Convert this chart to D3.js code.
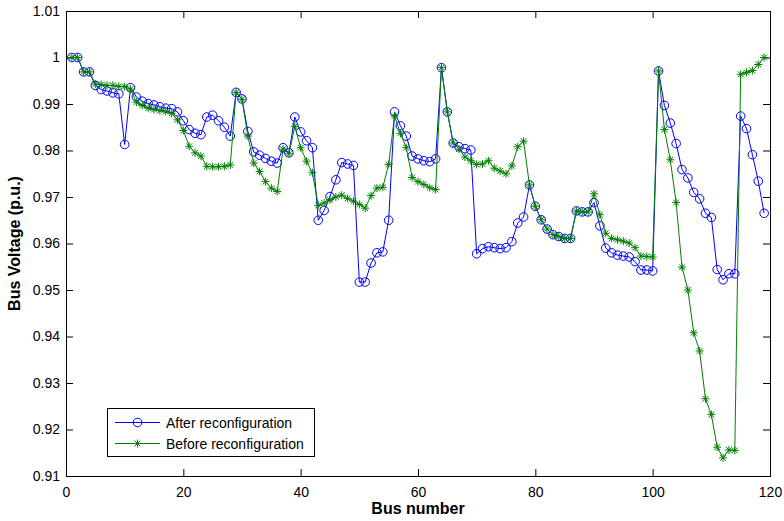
<!DOCTYPE html>
<html>
<head>
<meta charset="utf-8">
<title>Bus voltage profile</title>
<script src="https://d3js.org/d3.v7.min.js"></script>
<style>
body { margin: 0; background: #fff; }
svg text { font-family: Arial, "Liberation Sans", sans-serif; fill: #000; }
</style>
</head>
<body>
<svg id="chart" width="784" height="521"></svg>
<script>
// bus voltages (p.u.), bus 1..119
var afterV = [1.0000, 1.0000, 0.9969, 0.9969, 0.9940, 0.9931, 0.9928, 0.9924, 0.9922, 0.9813,
  0.9935, 0.9915, 0.9906, 0.9901, 0.9898, 0.9894, 0.9891, 0.9890, 0.9883, 0.9864,
  0.9845, 0.9837, 0.9834, 0.9872, 0.9876, 0.9864, 0.9850, 0.9831, 0.9925, 0.9911,
  0.9841, 0.9797, 0.9790, 0.9783, 0.9777, 0.9773, 0.9806, 0.9795, 0.9872, 0.9840,
  0.9821, 0.9806, 0.9650, 0.9671, 0.9701, 0.9737, 0.9774, 0.9771, 0.9768, 0.9517,
  0.9517, 0.9558, 0.9580, 0.9582, 0.9650, 0.9883, 0.9853, 0.9831, 0.9788, 0.9782,
  0.9778, 0.9776, 0.9782, 0.9978, 0.9883, 0.9816, 0.9808, 0.9804, 0.9801, 0.9578,
  0.9589, 0.9593, 0.9591, 0.9589, 0.9591, 0.9604, 0.9644, 0.9657, 0.9726, 0.9680,
  0.9651, 0.9631, 0.9619, 0.9615, 0.9611, 0.9611, 0.9670, 0.9668, 0.9668, 0.9688,
  0.9638, 0.9590, 0.9580, 0.9575, 0.9573, 0.9571, 0.9561, 0.9543, 0.9543, 0.9541,
  0.9971, 0.9897, 0.9859, 0.9815, 0.9759, 0.9741, 0.9710, 0.9696, 0.9665, 0.9656,
  0.9544, 0.9522, 0.9535, 0.9535, 0.9874, 0.9847, 0.9791, 0.9734, 0.9665];

var beforeV = [1.0000, 1.0000, 0.9969, 0.9969, 0.9943, 0.9942, 0.9940, 0.9940, 0.9938, 0.9937,
  0.9932, 0.9904, 0.9897, 0.9891, 0.9888, 0.9886, 0.9884, 0.9880, 0.9866, 0.9843,
  0.9809, 0.9795, 0.9788, 0.9766, 0.9765, 0.9765, 0.9766, 0.9769, 0.9925, 0.9910,
  0.9831, 0.9773, 0.9755, 0.9733, 0.9719, 0.9712, 0.9803, 0.9793, 0.9852, 0.9806,
  0.9777, 0.9752, 0.9682, 0.9687, 0.9694, 0.9700, 0.9704, 0.9697, 0.9691, 0.9684,
  0.9676, 0.9703, 0.9719, 0.9721, 0.9770, 0.9874, 0.9837, 0.9806, 0.9742, 0.9733,
  0.9727, 0.9720, 0.9716, 0.9978, 0.9883, 0.9816, 0.9803, 0.9786, 0.9778, 0.9770,
  0.9771, 0.9778, 0.9762, 0.9756, 0.9750, 0.9767, 0.9808, 0.9820, 0.9726, 0.9680,
  0.9651, 0.9631, 0.9619, 0.9615, 0.9611, 0.9611, 0.9670, 0.9668, 0.9668, 0.9707,
  0.9662, 0.9622, 0.9611, 0.9608, 0.9605, 0.9601, 0.9591, 0.9573, 0.9572, 0.9571,
  0.9971, 0.9845, 0.9780, 0.9688, 0.9549, 0.9500, 0.9408, 0.9369, 0.9266, 0.9232,
  0.9162, 0.9139, 0.9156, 0.9155, 0.9964, 0.9968, 0.9972, 0.9985, 1.0000];

var xTicks = [0, 20, 40, 60, 80, 100, 120];
var yTicks = [0.91, 0.92, 0.93, 0.94, 0.95, 0.96, 0.97, 0.98, 0.99, 1, 1.01];
var seriesNames = ["After reconfiguration", "Before reconfiguration"];
var seriesColors = ["#0000ff", "#008000"];

var svg = d3.select("#chart");
var mLeft = 66, mRight = 770, mTop = 11, mBottom = 476;

var x = d3.scaleLinear([0, 120], [mLeft, mRight]);
var y = d3.scaleLinear([0.91, 1.01], [mBottom, mTop]);

var afterData = afterV.map((v, i) => ({bus: i + 1, v: v}));
var beforeData = beforeV.map((v, i) => ({bus: i + 1, v: v}));

var line = d3.line().x(d => x(d.bus)).y(d => y(d.v));

// axes
var fmt = d => (d === 1 ? "1" : d3.format(".2f")(d));
svg.append("g")
  .attr("transform", "translate(0," + mBottom + ")")
  .call(d3.axisBottom(x).tickValues(xTicks).tickSizeInner(-7).tickSizeOuter(0).tickPadding(11))
  .call(g => g.select(".domain").remove())
  .call(g => g.selectAll("text").attr("font-size", 14));
svg.append("g")
  .attr("transform", "translate(" + mLeft + ",0)")
  .call(d3.axisLeft(y).tickValues(yTicks).tickFormat(fmt).tickSizeInner(-7).tickSizeOuter(0).tickPadding(6))
  .call(g => g.select(".domain").remove())
  .call(g => g.selectAll("text").attr("font-size", 14));
// ticks on top and right
svg.append("g")
  .attr("transform", "translate(0," + mTop + ")")
  .call(d3.axisTop(x).tickValues(xTicks).tickSizeInner(-7).tickSizeOuter(0).tickFormat(""))
  .call(g => g.select(".domain").remove());
svg.append("g")
  .attr("transform", "translate(" + mRight + ",0)")
  .call(d3.axisRight(y).tickValues(yTicks).tickSizeInner(-7).tickSizeOuter(0).tickFormat(""))
  .call(g => g.select(".domain").remove());

svg.append("rect")
  .attr("x", mLeft + 0.5).attr("y", mTop + 0.5)
  .attr("width", mRight - mLeft).attr("height", mBottom - mTop)
  .attr("fill", "none").attr("stroke", "#000").attr("stroke-width", 1);

// star marker
function star(r) {
  var a = r * 0.72;
  return "M" + (-r) + ",0L" + r + ",0M0," + (-r) + "L0," + r +
    "M" + (-a) + "," + (-a) + "L" + a + "," + a + "M" + (-a) + "," + a + "L" + a + "," + (-a);
}

// after (blue circles)
svg.append("path").datum(afterData)
  .attr("d", line).attr("fill", "none")
  .attr("stroke", seriesColors[0]).attr("stroke-width", 1);
svg.append("g").selectAll("circle").data(afterData).join("circle")
  .attr("cx", d => x(d.bus)).attr("cy", d => y(d.v)).attr("r", 4.3)
  .attr("fill", "none").attr("stroke", seriesColors[0]).attr("stroke-width", 1);

// before (green stars)
svg.append("path").datum(beforeData)
  .attr("d", line).attr("fill", "none")
  .attr("stroke", seriesColors[1]).attr("stroke-width", 1);
svg.append("g").selectAll("path").data(beforeData).join("path")
  .attr("transform", d => "translate(" + x(d.bus) + "," + y(d.v) + ")")
  .attr("d", star(4)).attr("fill", "none")
  .attr("stroke", seriesColors[1]).attr("stroke-width", 1);

// legend
var lg = svg.append("g").attr("transform", "translate(107,408)");
lg.append("rect").attr("x", 0.5).attr("y", 0.5).attr("width", 207).attr("height", 48)
  .attr("fill", "#fff").attr("stroke", "#000");
seriesNames.forEach(function(name, i) {
  var ly = 14.5 + i * 21;
  lg.append("line").attr("x1", 8).attr("x2", 53).attr("y1", ly).attr("y2", ly)
    .attr("stroke", seriesColors[i]);
  if (i === 0) {
    lg.append("circle").attr("cx", 30.5).attr("cy", ly).attr("r", 4.3)
      .attr("fill", "none").attr("stroke", seriesColors[i]);
  } else {
    lg.append("path").attr("transform", "translate(30.5," + ly + ")")
      .attr("d", star(4)).attr("fill", "none").attr("stroke", seriesColors[i]);
  }
  lg.append("text").attr("x", 59).attr("y", ly + 5).attr("font-size", 14).text(name);
});

// axis titles
svg.append("text").attr("x", (mLeft + mRight) / 2).attr("y", 514)
  .attr("text-anchor", "middle").attr("font-size", 16).attr("font-weight", "bold")
  .text("Bus number");
svg.append("text").attr("transform", "translate(20," + (mTop + mBottom) / 2 + ") rotate(-90)")
  .attr("text-anchor", "middle").attr("font-size", 16).attr("font-weight", "bold")
  .text("Bus Voltage (p.u.)");
</script>
</body>
</html>
